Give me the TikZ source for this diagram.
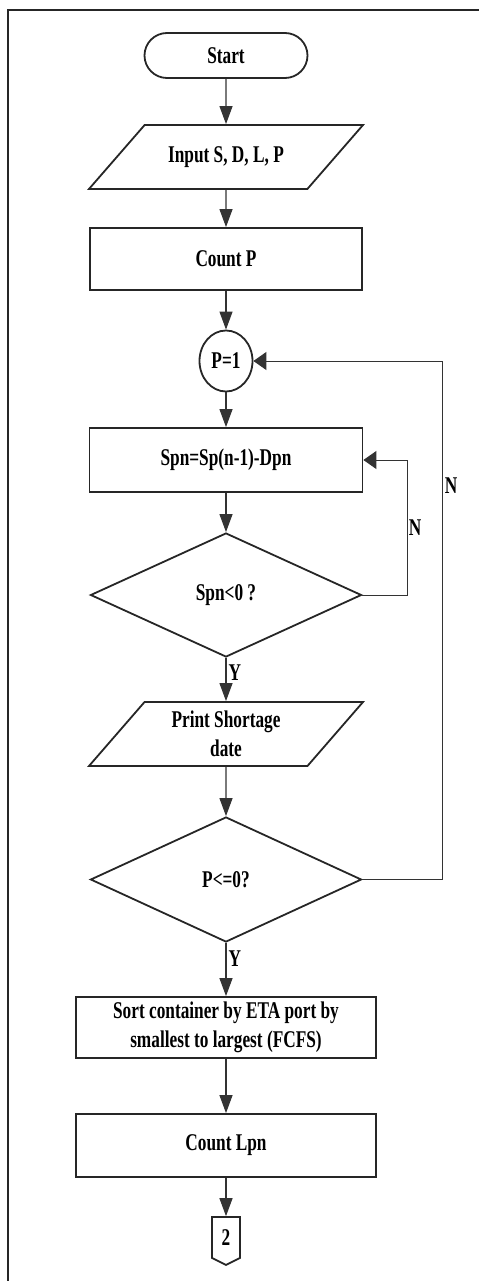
\documentclass[tikz,border=0pt]{standalone}
\usepackage{fontspec}
\setmainfont{Liberation Serif}[FakeStretch=0.72]
\usetikzlibrary{shapes.geometric,shapes.misc,shapes.symbols,arrows.meta}
\tikzset{
  base/.style={draw=black!85, line width=1.8pt, font=\bfseries\fontsize{24}{29}\selectfont, inner sep=0pt, align=center},
  proc/.style={base, rectangle, minimum height=62pt},
  io/.style={base, trapezium, trapezium left angle=49, trapezium right angle=131, trapezium stretches body, minimum width=274pt, minimum height=64pt},
  dec/.style={base, diamond, minimum width=271pt, minimum height=124pt},
  arr/.style={draw=black!80, line width=1.1pt, -{Triangle[length=18pt,width=13pt]}},
  fb/.style={draw=black!80, line width=1pt, -{Triangle[length=13pt,width=18pt]}},
  lab/.style={font=\bfseries\fontsize{24}{29}\selectfont, inner sep=2pt}
}
\begin{document}
\begin{tikzpicture}[x=1pt,y=-1pt]
\useasboundingbox (0,0) rectangle (479,1281);
\draw[line width=2pt, draw=black!85] (8,1281) -- (8,10) -- (479,10);
\node[base, rounded rectangle, minimum width=163pt, minimum height=45pt] (start) at (226,55.5){Start};
\node[io, text height=17pt, text depth=5pt, inner ysep=21pt] (inp) at (226,157){Input S, D, L, P};
\node[proc, minimum width=272pt] (cntp) at (226,259){Count P};
\node[base, ellipse, minimum width=53pt, minimum height=61pt] (p1) at (226,361){P=1};
\node[proc, minimum width=273pt, minimum height=64pt] (spn) at (226,460){Spn=Sp(n-1)-Dpn};
\node[dec] (spnneg) at (226,595){Spn<0 ?};
\node[io, inner ysep=9pt] (prt) at (226,734){Print Shortage\\date};
\node[dec, minimum height=125pt] (pzero) at (226,879.5){P<=0?};
\node[proc, minimum width=300pt, minimum height=61pt] (sort) at (226,1027.5){Sort container by ETA port by\\smallest to largest (FCFS)};
\node[proc, minimum width=300pt, minimum height=63pt] (lpn) at (226,1145.5){Count Lpn};
\node[base, signal, signal to=south, signal from=nowhere, signal pointer angle=127, minimum width=28pt, minimum height=43pt] (con2) at (226,1237.5){2};
\draw[arr](start) -- (inp);
\draw[arr](inp) -- (cntp);
\draw[arr](cntp) -- (p1);
\draw[arr](p1) -- (spn);
\draw[arr](spn) -- (spnneg);
\draw[arr](spnneg) -- node[lab, pos=0.35, right]{Y} (prt);
\draw[arr](prt) -- (pzero);
\draw[arr](pzero) -- node[lab, pos=0.3, right]{Y} (sort);
\draw[arr](sort) -- (lpn);
\draw[arr](lpn) -- (con2);
\draw[fb](spnneg.east) -- ++(45,0) |- node[lab, pos=0.25, right, inner sep=1pt]{N} (spn.east);
\draw[fb](pzero.east) -- ++(80,0) |- node[lab, pos=0.38, right]{N} (p1.east);
\end{tikzpicture}
\end{document}
